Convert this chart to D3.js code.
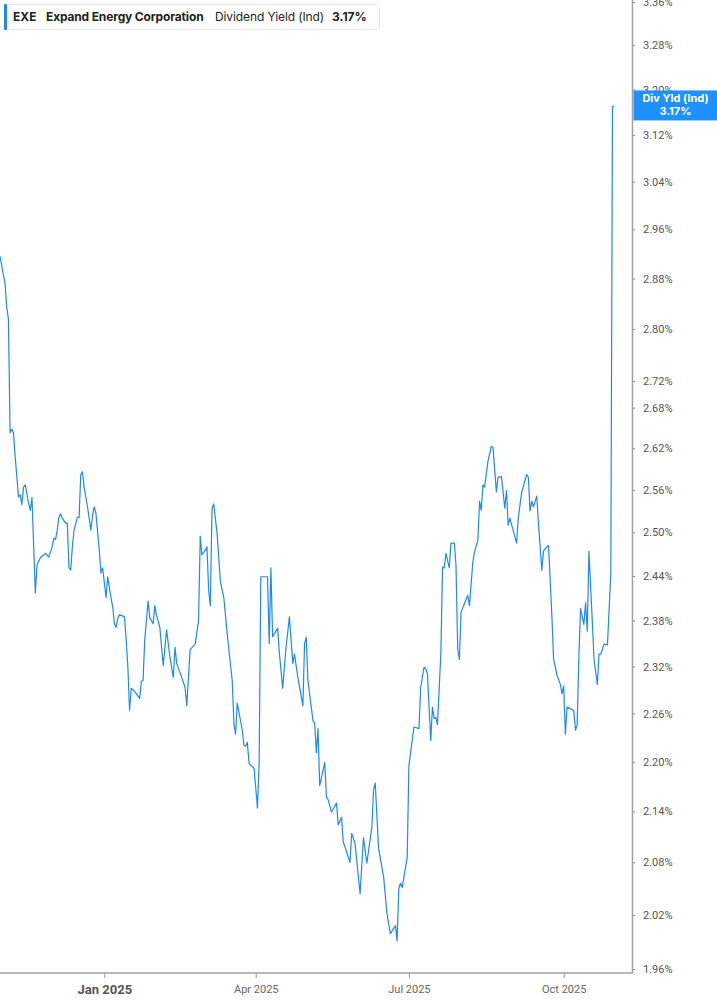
<!DOCTYPE html>
<meta charset="utf-8">
<script src="https://d3js.org/d3.v7.min.js"></script>
<style>
body{margin:0;background:#fff;}
</style>
<body>
<script>
var dates=["2024-10-31","2024-11-03","2024-11-04","2024-11-05","2024-11-06","2024-11-07","2024-11-08","2024-11-09","2024-11-11","2024-11-12",
"2024-11-13","2024-11-14","2024-11-15","2024-11-17","2024-11-18","2024-11-19","2024-11-21","2024-11-22","2024-11-24","2024-11-25",
"2024-11-27","2024-11-29","2024-12-01","2024-12-02","2024-12-03","2024-12-04","2024-12-05","2024-12-06","2024-12-07","2024-12-09",
"2024-12-10","2024-12-11","2024-12-12","2024-12-13","2024-12-14","2024-12-16","2024-12-17","2024-12-18","2024-12-19","2024-12-20",
"2024-12-22","2024-12-24","2024-12-25","2024-12-26","2024-12-27","2024-12-29","2024-12-30","2024-12-31","2025-01-02","2025-01-03",
"2025-01-05","2025-01-06","2025-01-07","2025-01-08","2025-01-09","2025-01-10","2025-01-13","2025-01-14","2025-01-15","2025-01-16",
"2025-01-17","2025-01-19","2025-01-22","2025-01-23","2025-01-24","2025-01-25","2025-01-27","2025-01-28","2025-01-30","2025-01-31",
"2025-02-01","2025-02-03","2025-02-05","2025-02-07","2025-02-09","2025-02-11","2025-02-12","2025-02-13","2025-02-16","2025-02-18",
"2025-02-19","2025-02-21","2025-02-24","2025-02-26","2025-02-27","2025-02-28","2025-03-02","2025-03-03","2025-03-04","2025-03-05",
"2025-03-06","2025-03-07","2025-03-09","2025-03-11","2025-03-13","2025-03-15","2025-03-18","2025-03-19","2025-03-20","2025-03-21",
"2025-03-24","2025-03-25","2025-03-26","2025-03-27","2025-03-28","2025-03-31","2025-04-01","2025-04-02","2025-04-03","2025-04-04",
"2025-04-05","2025-04-08","2025-04-09","2025-04-10","2025-04-11","2025-04-14","2025-04-15","2025-04-17","2025-04-19","2025-04-21",
"2025-04-23","2025-04-24","2025-04-26","2025-04-29","2025-04-30","2025-05-01","2025-05-02","2025-05-05","2025-05-06","2025-05-07",
"2025-05-08","2025-05-09","2025-05-12","2025-05-13","2025-05-14","2025-05-16","2025-05-19","2025-05-20","2025-05-22","2025-05-23",
"2025-05-27","2025-05-28","2025-05-30","2025-06-02","2025-06-04","2025-06-06","2025-06-09","2025-06-10","2025-06-11","2025-06-13",
"2025-06-16","2025-06-18","2025-06-20","2025-06-23","2025-06-24","2025-06-25","2025-06-26","2025-06-27","2025-06-30","2025-07-01",
"2025-07-04","2025-07-07","2025-07-08","2025-07-10","2025-07-11","2025-07-12","2025-07-14","2025-07-15","2025-07-16","2025-07-17",
"2025-07-18","2025-07-20","2025-07-21","2025-07-22","2025-07-23","2025-07-25","2025-07-26","2025-07-28","2025-07-29","2025-07-30",
"2025-07-31","2025-08-01","2025-08-03","2025-08-05","2025-08-06","2025-08-08","2025-08-09","2025-08-11","2025-08-12","2025-08-13",
"2025-08-14","2025-08-15","2025-08-17","2025-08-19","2025-08-20","2025-08-22","2025-08-23","2025-08-25","2025-08-27","2025-08-28",
"2025-08-29","2025-08-30","2025-09-03","2025-09-04","2025-09-06","2025-09-09","2025-09-10","2025-09-11","2025-09-12","2025-09-13",
"2025-09-15","2025-09-16","2025-09-18","2025-09-19","2025-09-21","2025-09-22","2025-09-24","2025-09-25","2025-09-27","2025-09-29",
"2025-09-30","2025-10-01","2025-10-02","2025-10-03","2025-10-06","2025-10-07","2025-10-08","2025-10-09","2025-10-10","2025-10-11",
"2025-10-13","2025-10-14","2025-10-15","2025-10-16","2025-10-18","2025-10-19","2025-10-21","2025-10-22","2025-10-23","2025-10-25",
"2025-10-27","2025-10-29","2025-10-30","2025-10-31"];

var yields=[2.916,2.872,2.834,2.816,2.643,2.648,2.643,2.608,2.550,2.553,
2.539,2.564,2.567,2.541,2.531,2.549,2.417,2.455,2.465,2.467,
2.471,2.466,2.480,2.492,2.490,2.503,2.521,2.526,2.520,2.513,
2.513,2.451,2.448,2.480,2.503,2.521,2.521,2.582,2.586,2.564,
2.536,2.503,2.524,2.536,2.527,2.475,2.444,2.451,2.411,2.439,
2.410,2.398,2.376,2.371,2.383,2.388,2.385,2.354,2.319,2.264,
2.292,2.288,2.279,2.301,2.302,2.354,2.406,2.384,2.376,2.400,
2.387,2.371,2.321,2.368,2.332,2.306,2.345,2.324,2.306,2.293,
2.270,2.342,2.349,2.380,2.495,2.469,2.475,2.480,2.421,2.400,
2.534,2.540,2.499,2.432,2.411,2.363,2.302,2.248,2.234,2.273,
2.239,2.220,2.219,2.224,2.198,2.192,2.168,2.144,2.198,2.439,
2.439,2.439,2.350,2.451,2.359,2.370,2.338,2.292,2.345,2.385,
2.324,2.336,2.306,2.270,2.350,2.358,2.302,2.251,2.248,2.211,
2.241,2.171,2.199,2.157,2.154,2.139,2.150,2.124,2.133,2.104,
2.080,2.114,2.102,2.044,2.109,2.079,2.121,2.166,2.174,2.096,
2.063,2.021,1.999,2.008,1.991,2.050,2.056,2.051,2.086,2.195,
2.243,2.241,2.293,2.319,2.317,2.311,2.226,2.268,2.254,2.255,
2.246,2.337,2.452,2.451,2.471,2.451,2.485,2.485,2.455,2.343,
2.329,2.391,2.403,2.414,2.400,2.459,2.473,2.489,2.544,2.531,
2.567,2.564,2.601,2.623,2.621,2.557,2.578,2.579,2.534,2.559,
2.510,2.520,2.485,2.520,2.556,2.582,2.578,2.530,2.544,2.536,
2.551,2.513,2.448,2.474,2.480,2.482,2.385,2.330,2.309,2.297,
2.285,2.295,2.234,2.268,2.265,2.263,2.239,2.246,2.330,2.396,
2.375,2.404,2.366,2.474,2.379,2.330,2.297,2.336,2.336,2.349,
2.348,2.443,3.170,3.170];

var yTicks=[1.96,2.02,2.08,2.14,2.20,2.26,2.32,2.38,2.44,2.50,2.56,2.62,2.68,2.72,2.80,2.88,2.96,3.04,3.12,3.20,3.28,3.36];
var xTicks=["2025-01-01","2025-04-01","2025-07-01","2025-10-01"];
var xTickLabels=["Jan 2025","Apr 2025","Jul 2025","Oct 2025"];
var lastValue=3.17;

var W=717,H=1005;
var plotRight=632,plotBottom=973;
var parse=d3.timeParse("%Y-%m-%d");

var svg=d3.select("body").append("svg")
  .attr("width",W)
  .attr("height",H);

var x=d3.scaleTime()
  .domain([parse("2024-10-31"),parse("2025-11-10")])
  .range([0,631]);
var y=d3.scaleLog()
  .domain([1.96,3.36])
  .range([969,2]);

var data=dates.map(function(d,i){return {date:parse(d),v:yields[i]};});

// right axis
var yAxis=d3.axisRight(y)
  .tickValues(yTicks)
  .tickSize(3)
  .tickPadding(8)
  .tickFormat(function(d){return d.toFixed(2)+"%";});
var gy=svg.append("g")
  .attr("transform","translate("+plotRight+",0)")
  .call(yAxis);
gy.select(".domain").remove();
gy.selectAll("line").attr("stroke","#888");
gy.selectAll("text")
  .attr("fill","#555")
  .style("font-family","Roboto, sans-serif")
  .style("font-size","11px");
svg.append("line")
  .attr("x1",plotRight+0.5).attr("x2",plotRight+0.5)
  .attr("y1",0).attr("y2",plotBottom)
  .attr("stroke","#a0a0a0")
  .attr("stroke-width",1.5);

// bottom axis
var xAxis=d3.axisBottom(x)
  .tickValues(xTicks.map(parse))
  .tickSize(5)
  .tickPadding(7)
  .tickFormat(function(d,i){return xTickLabels[i];});
var gx=svg.append("g")
  .attr("transform","translate(0,"+plotBottom+")")
  .call(xAxis);
gx.select(".domain").remove();
gx.selectAll("line").attr("stroke","#999");
gx.selectAll("text")
  .attr("fill","#666")
  .style("font-family","Roboto, sans-serif")
  .style("font-size","11px");
gx.selectAll("text").filter(function(d,i){return i==0;})
  .attr("fill","#555")
  .style("font-weight","bold")
  .style("font-size","13px");
svg.append("line")
  .attr("x1",0).attr("x2",plotRight+1)
  .attr("y1",plotBottom).attr("y2",plotBottom)
  .attr("stroke","#a0a0a0")
  .attr("stroke-width",1.5);

// the series
var line=d3.line()
  .x(function(d){return x(d.date);})
  .y(function(d){return y(d.v);});
svg.append("path")
  .datum(data)
  .attr("d",line)
  .attr("fill","none")
  .attr("stroke","#1e88f5")
  .attr("stroke-width",1.2)
  .attr("stroke-linejoin","round");

// last value tag
var tagY=y(lastValue);
svg.append("rect")
  .attr("x",plotRight+1.5)
  .attr("y",tagY-16)
  .attr("width",W-plotRight-1.5)
  .attr("height",30)
  .attr("fill","#1e90ff");
svg.append("text")
  .attr("x",(plotRight+2+W)/2)
  .attr("y",tagY-4)
  .attr("text-anchor","middle")
  .attr("fill","#fff")
  .style("font-family","Inter, sans-serif")
  .style("font-weight","bold")
  .style("font-size","11px")
  .text("Div Yld (Ind)");
svg.append("text")
  .attr("x",(plotRight+2+W)/2)
  .attr("y",tagY+9)
  .attr("text-anchor","middle")
  .attr("fill","#fff")
  .style("font-family","Inter, sans-serif")
  .style("font-weight","bold")
  .style("font-size","11px")
  .text(lastValue.toFixed(2)+"%");

// legend
var lg=svg.append("g");
lg.append("rect")
  .attr("x",4.5).attr("y",4.5)
  .attr("width",375).attr("height",25)
  .attr("rx",3)
  .attr("fill","#fff")
  .attr("stroke","#e6e6e6");
lg.append("rect")
  .attr("x",4).attr("y",4)
  .attr("width",3).attr("height",26)
  .attr("rx",1)
  .attr("fill","#1e88f5");
var lt=lg.append("text")
  .attr("y",21)
  .attr("fill","#222")
  .style("font-family","Inter, sans-serif")
  .style("font-size","12px");
lt.append("tspan").attr("x",13).style("font-weight","bold").text("EXE");
lt.append("tspan").attr("x",46).style("font-weight","bold").style("letter-spacing","-0.15px").text("Expand Energy Corporation");
lt.append("tspan").attr("x",215).style("letter-spacing","-0.1px").text("Dividend Yield (Ind)");
lt.append("tspan").attr("x",332).style("font-weight","bold").text(lastValue.toFixed(2)+"%");
</script>
</body>
